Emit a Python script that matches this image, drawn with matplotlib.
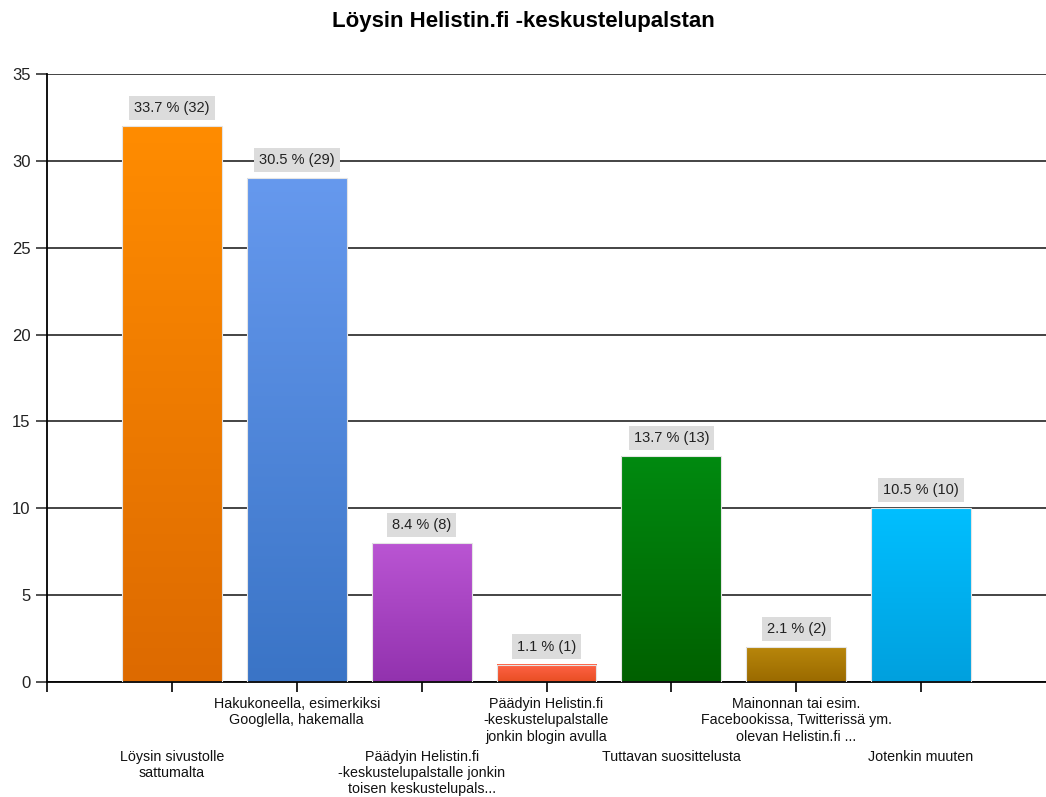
import numpy as np
import matplotlib.pyplot as plt
from matplotlib.colors import LinearSegmentedColormap

# Data
TITLE = 'Löysin Helistin.fi -keskustelupalstan'
CATEGORIES = ['Löysin sivustolle\nsattumalta',
              'Hakukoneella, esimerkiksi\nGooglella, hakemalla',
              'Päädyin Helistin.fi\n-keskustelupalstalle jonkin\ntoisen keskustelupals...',
              'Päädyin Helistin.fi\n-keskustelupalstalle\njonkin blogin avulla',
              'Tuttavan suosittelusta',
              'Mainonnan tai esim.\nFacebookissa, Twitterissä ym.\nolevan Helistin.fi ...',
              'Jotenkin muuten']
COUNTS = [32, 29, 8, 1, 13, 2, 10]
PERCENTS = [33.7, 30.5, 8.4, 1.1, 13.7, 2.1, 10.5]
TOP_COLORS = ['#FF8C00', '#6699EE', '#BA55D3', '#FF6347', '#008A10', '#B8860B', '#00BFFF']
BOTTOM_COLORS = ['#DD6A00', '#3A74C6', '#9232AE', '#E84E22', '#006000', '#9A6A00', '#00A0DE']

plt.rcParams['font.family'] = ['Liberation Sans', 'DejaVu Sans']

fig = plt.figure(figsize=(10.46, 7.97), dpi=100)
ax = fig.add_axes([47 / 1046, 1 - 682 / 797, 1 - 47 / 1046, (682 - 74) / 797])

x = np.arange(1, len(COUNTS) + 1)
bars = ax.bar(x, COUNTS, width=0.8, color='none', edgecolor='#E4E4E4', linewidth=0.8, zorder=3)

# gradient fill for each bar
grad = np.linspace(0, 1, 256).reshape(-1, 1)
for bar, c_top, c_bot in zip(bars, TOP_COLORS, BOTTOM_COLORS):
    cmap = LinearSegmentedColormap.from_list('g', [c_bot, c_top])
    x0, w, h = bar.get_x(), bar.get_width(), bar.get_height()
    ax.imshow(grad, cmap=cmap, aspect='auto', origin='lower',
              extent=(x0, x0 + w, 0, h), zorder=2)

# value labels
for bar, pct, cnt in zip(bars, PERCENTS, COUNTS):
    ax.annotate(f'{pct} % ({cnt})', (bar.get_x() + bar.get_width() / 2, bar.get_height()),
                xytext=(0, 8), textcoords='offset points', ha='center', va='bottom',
                fontsize=10.5, color='#222222', zorder=5,
                bbox=dict(boxstyle='square,pad=0.35', fc='#DCDCDC', ec='none'))

ax.set_xlim(0, 8)
ax.set_ylim(0, 35)
ax.set_yticks(range(0, 36, 5))
ax.set_xticks(x)
ax.set_xticklabels([])
ax.set_xticks([0], minor=True)
ax.tick_params(axis='x', which='both', length=7, width=1.2, color='black')
ax.tick_params(axis='y', length=8, width=1.2, labelsize=12, pad=4, color='#333333',
               labelcolor='#222222')
ax.yaxis.grid(True, color='#353535', linewidth=1.3, zorder=1)
ax.set_axisbelow(True)
for s in ['top', 'right']:
    ax.spines[s].set_visible(False)
ax.spines['left'].set_linewidth(1.3)
ax.spines['bottom'].set_linewidth(1.3)

# category labels in two staggered rows
for i, (xi, lab) in enumerate(zip(x, CATEGORIES)):
    off = -11 if i % 2 == 1 else -49
    ax.annotate(lab, (xi, 0), xycoords=('data', 'axes fraction'),
                xytext=(0, off), textcoords='offset points',
                ha='center', va='top', fontsize=10.3, color='#111111',
                linespacing=1.2, annotation_clip=False)

fig.text(0.5, 1 - 21 / 797, TITLE, ha='center', va='center', fontsize=16, fontweight='bold')

fig.savefig('out.png', dpi=100)
